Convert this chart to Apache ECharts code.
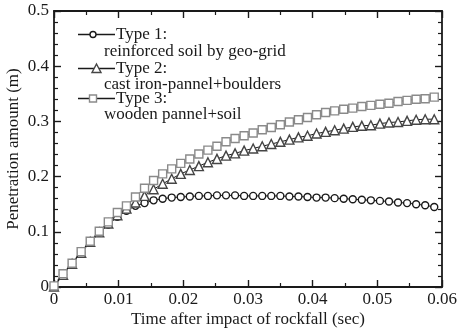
<!DOCTYPE html>
<html>
<head>
<meta charset="utf-8">
<script src="https://cdn.jsdelivr.net/npm/echarts@6/dist/echarts.min.js"></script>
<style>
  html, body { margin: 0; padding: 0; background: #fff; }
  #chart { width: 457px; height: 333px; }
</style>
</head>
<body>
<div id="chart"></div>
<script>
// Time after impact (sec), sampled every 1.4 ms
const timeSec = [
  0, 0.0014, 0.0028, 0.0042, 0.0056, 0.0070, 0.0084, 0.0098, 0.0112, 0.0126,
  0.0140, 0.0154, 0.0168, 0.0182, 0.0196, 0.0210, 0.0224, 0.0238, 0.0252, 0.0266,
  0.0280, 0.0294, 0.0308, 0.0322, 0.0336, 0.0350, 0.0364, 0.0378, 0.0392, 0.0406,
  0.0420, 0.0434, 0.0448, 0.0462, 0.0476, 0.0490, 0.0504, 0.0518, 0.0532, 0.0546,
  0.0560, 0.0574, 0.0588
];

// Penetration amount (m) for each protection type
const type1Geogrid = [
  0.001, 0.022, 0.042, 0.062, 0.081, 0.098, 0.113, 0.127, 0.138, 0.147,
  0.152, 0.157, 0.160, 0.162, 0.163, 0.164, 0.165, 0.165, 0.166, 0.166,
  0.166, 0.165, 0.165, 0.165, 0.165, 0.165, 0.164, 0.164, 0.163, 0.162,
  0.162, 0.161, 0.160, 0.159, 0.158, 0.157, 0.156, 0.155, 0.153, 0.152,
  0.150, 0.148, 0.145
];
const type2CastIron = [
  0.001, 0.022, 0.042, 0.062, 0.082, 0.099, 0.115, 0.130, 0.142, 0.153,
  0.165, 0.177, 0.187, 0.196, 0.205, 0.212, 0.219, 0.226, 0.232, 0.238,
  0.242, 0.247, 0.251, 0.255, 0.259, 0.263, 0.267, 0.271, 0.274, 0.278,
  0.281, 0.284, 0.287, 0.290, 0.292, 0.293, 0.296, 0.298, 0.299, 0.301,
  0.303, 0.304, 0.304
];
const type3Wooden = [
  0.002, 0.024, 0.043, 0.064, 0.083, 0.101, 0.118, 0.135, 0.147, 0.163,
  0.179, 0.193, 0.205, 0.214, 0.224, 0.232, 0.241, 0.248, 0.255, 0.263,
  0.269, 0.274, 0.279, 0.285, 0.289, 0.294, 0.299, 0.303, 0.307, 0.312,
  0.316, 0.319, 0.322, 0.324, 0.327, 0.329, 0.331, 0.333, 0.336, 0.338,
  0.340, 0.341, 0.344
];

const seriesTitles = ['Type 1:', 'Type 2:', 'Type 3:'];
const seriesNotes = [
  'reinforced soil by geo-grid',
  'cast iron-pannel+boulders',
  'wooden pannel+soil'
];
const xAxisTitle = 'Time after impact of rockfall (sec)';
const yAxisTitle = 'Penetration amount (m)';

const FONT = '"Liberation Serif", "DejaVu Serif", serif';
const INK = '#1a1a1a';
const markerStyles = [
  { symbol: 'circle', size: 7, stroke: '#1a1a1a' },
  { symbol: 'triangle', size: 9, stroke: '#454545' },
  { symbol: 'rect', size: 8, stroke: '#8a8a8a' }
];
const values = [type1Geogrid, type2CastIron, type3Wooden];

const chart = echarts.init(document.getElementById('chart'), null, { renderer: 'canvas' });

const frameStyle = () => ({
  axisLine: { show: true, onZero: false, lineStyle: { color: INK, width: 1.8 } },
  axisTick: { show: true, inside: true, length: 7, lineStyle: { color: INK, width: 1.4 } },
  splitLine: { show: false },
  minorSplitLine: { show: false }
});
const minor = (n) => ({ show: true, splitNumber: n, length: 4, lineStyle: { color: INK, width: 1.2 } });

const xBase = { type: 'value', min: 0, max: 0.06, interval: 0.01 };
const yBase = { type: 'value', min: 0, max: 0.5, interval: 0.1 };

// Legend block: sample line + marker, title, and a description line below
function legendGraphics() {
  const items = [];
  const rows = [34.5, 68.5, 98.5];
  const notesY = [52, 84.5, 115];
  for (let k = 0; k < 3; k++) {
    const y = rows[k];
    items.push({
      type: 'line', silent: true,
      shape: { x1: 78, y1: y, x2: 115, y2: y },
      style: { stroke: INK, lineWidth: 1.3 }
    });
    const m = markerStyles[k];
    const sz = m.size;
    if (m.symbol === 'circle') {
      items.push({ type: 'circle', silent: true, shape: { cx: 93, cy: y, r: sz / 2 - 0.5 },
        style: { fill: '#fff', stroke: m.stroke, lineWidth: 1.4 } });
    } else if (m.symbol === 'triangle') {
      items.push({ type: 'polygon', silent: true,
        shape: { points: [[96.5, y - sz / 2], [96.5 + sz / 2, y + sz / 2 - 0.5], [96.5 - sz / 2, y + sz / 2 - 0.5]] },
        style: { fill: '#fff', stroke: m.stroke, lineWidth: 1.4 } });
    } else {
      items.push({ type: 'rect', silent: true,
        shape: { x: 93 - sz / 2 + 0.5, y: y - sz / 2 + 0.5, width: sz - 1, height: sz - 1 },
        style: { fill: '#fff', stroke: m.stroke, lineWidth: 1.4 } });
    }
    items.push({
      type: 'text', silent: true, x: 116, y: y,
      style: { text: seriesTitles[k], font: '17px ' + FONT, fill: INK, verticalAlign: 'middle' }
    });
    items.push({
      type: 'text', silent: true, x: 104, y: notesY[k],
      style: { text: seriesNotes[k], font: '17px ' + FONT, fill: INK, verticalAlign: 'middle' }
    });
  }
  return items;
}

const option = {
  backgroundColor: '#fff',
  animation: false,
  grid: { left: 54, right: 15, top: 11, bottom: 46, containLabel: false, outerBoundsMode: 'none' },
  xAxis: [
    Object.assign({}, xBase, frameStyle(), {
      position: 'bottom',
      minorTick: minor(2),
      name: xAxisTitle, nameLocation: 'middle', nameGap: 24, nameMoveOverlap: false,
      nameTextStyle: { fontFamily: FONT, fontSize: 17, color: INK },
      axisLabel: {
        show: true, margin: 4, fontFamily: FONT, fontSize: 17, color: INK,
        showMinLabel: true, showMaxLabel: true, hideOverlap: false,
        formatter: v => (v === 0 ? '0' : v.toFixed(2))
      }
    }),
    Object.assign({}, xBase, frameStyle(), {
      position: 'top',
      minorTick: minor(2),
      axisLabel: { show: false }
    })
  ],
  yAxis: [
    Object.assign({}, yBase, frameStyle(), {
      position: 'left',
      minorTick: minor(5),
      name: yAxisTitle, nameLocation: 'middle', nameGap: 32, nameRotate: 90, nameMoveOverlap: false,
      nameTextStyle: { fontFamily: FONT, fontSize: 17, color: INK },
      axisLabel: {
        show: true, margin: 5, fontFamily: FONT, fontSize: 17, color: INK,
        showMinLabel: true, showMaxLabel: true, hideOverlap: false,
        formatter: v => (v === 0 ? '0' : v.toFixed(1))
      }
    }),
    Object.assign({}, yBase, frameStyle(), {
      position: 'right',
      minorTick: minor(5),
      axisLabel: { show: false }
    })
  ],
  series: values.map((vals, k) => ({
    type: 'line',
    name: seriesTitles[k],
    xAxisIndex: 0,
    yAxisIndex: 0,
    data: timeSec.map((t, i) => [t, vals[i]]),
    symbol: markerStyles[k].symbol,
    symbolSize: markerStyles[k].size,
    showAllSymbol: true,
    z: 2 + k,
    lineStyle: { color: INK, width: 1 },
    itemStyle: { color: '#fff', borderColor: markerStyles[k].stroke, borderWidth: 1.4 },
    emphasis: { disabled: true }
  })),
  graphic: legendGraphics()
};

chart.setOption(option);
</script>
</body>
</html>
